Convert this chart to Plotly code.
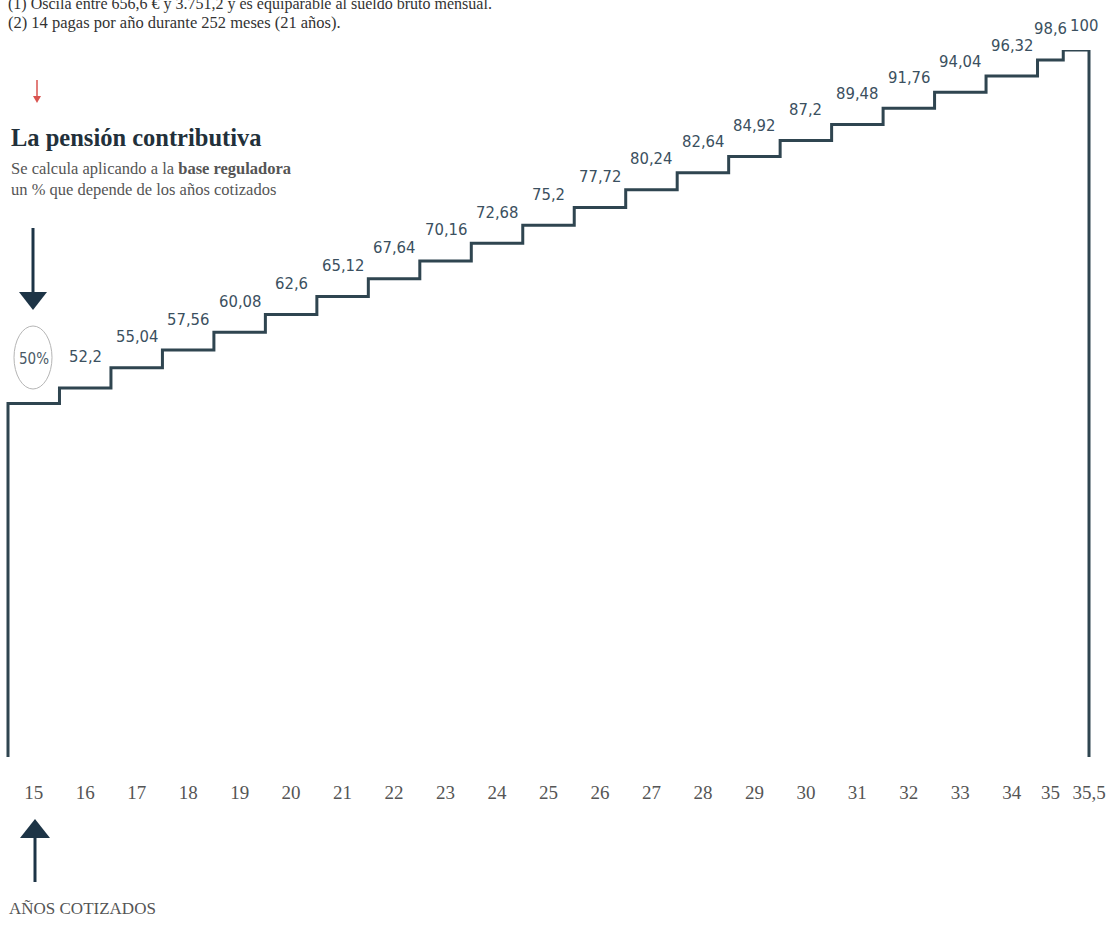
import plotly.graph_objects as go

# Años cotizados y porcentaje de la base reguladora
years = [15, 16, 17, 18, 19, 20, 21, 22, 23, 24, 25,
         26, 27, 28, 29, 30, 31, 32, 33, 34, 35, 35.5]
pct = [50, 52.2, 55.04, 57.56, 60.08, 62.6, 65.12, 67.64, 70.16, 72.68, 75.2,
       77.72, 80.24, 82.64, 84.92, 87.2, 89.48, 91.76, 94.04, 96.32, 98.6, 100]
tick_labels = ["15", "16", "17", "18", "19", "20", "21", "22", "23", "24", "25",
               "26", "27", "28", "29", "30", "31", "32", "33", "34", "35", "35,5"]

W, H = 1106, 926
M_TOP, M_BOT = 50, 169          # plot area spans pixel rows 50..757
PLOT_H = H - M_TOP - M_BOT

LINE = "#2f4550"
NAVY = "#1d3446"
LABEL = "#3b5060"
GREY = "#555555"
NARROW = "Liberation Sans Narrow, DejaVu Sans Condensed, Arial Narrow, sans-serif"
SERIF = "Liberation Serif, DejaVu Serif, serif"


def fmt(v):
    s = f"{v:.2f}".rstrip("0").rstrip(".")
    return s.replace(".", ",")


# each step is one year wide; the last (half year) is as wide as its gap
gaps = [b - a for a, b in zip(years[:-1], years[1:])]
widths = gaps + [gaps[-1]]
lefts = [years[0] - 0.5]
for w in widths[:-1]:
    lefts.append(lefts[-1] + w)
rights = [l + w for l, w in zip(lefts, widths)]
centres = [(l + r) / 2 for l, r in zip(lefts, rights)]

step_x = [lefts[0]] + lefts + [rights[-1], rights[-1]]
step_y = [0] + pct + [pct[-1], 0]

tick_pos = [c if float(y).is_integer() else r
            for y, c, r in zip(years, centres, rights)]

fig = go.Figure()
fig.add_trace(go.Scatter(
    x=step_x, y=step_y, mode="lines", line_shape="hv",
    line=dict(color=LINE, width=3), hoverinfo="skip", showlegend=False,
))

# value labels above each step
last = len(pct) - 1
for i, (c, v) in enumerate(zip(centres, pct)):
    first = i == 0
    shift = 45 if first else (25 if i == last else 31)
    fig.add_annotation(
        x=c, y=v, xref="x", yref="y",
        text=fmt(v) + ("%" if first else ""),
        showarrow=False, yshift=shift, xshift=8 if i == last else 0,
        font=dict(family=NARROW, size=15 if first else 16.5,
                  color="#4a5a66" if first else LABEL),
    )

x0_px, x1_px = 8, 1089           # pixel columns of the outer vertical lines
ppu = (x1_px - x0_px) / (rights[-1] - lefts[0])
xr = [lefts[0] - x0_px / ppu, rights[-1] + (W - x1_px) / ppu]


def px(xp):
    return xp / W


def py(yp):
    return (H - M_BOT - yp) / PLOT_H


shapes = []


def arrow(x, y_from, y_to, head_w, head_h, color, width):
    d = 1 if y_to > y_from else -1
    base = y_to - d * head_h
    shapes.append(dict(type="line", xref="paper", yref="paper",
                       x0=px(x), x1=px(x), y0=py(y_from), y1=py(base + d * 2),
                       line=dict(color=color, width=width)))
    shapes.append(dict(type="path", xref="paper", yref="paper",
                       path=(f"M {px(x - head_w / 2)} {py(base)} "
                             f"L {px(x + head_w / 2)} {py(base)} "
                             f"L {px(x)} {py(y_to)} Z"),
                       fillcolor=color, line=dict(color=color, width=0)))


arrow(33, 228, 310, 28, 18, NAVY, 3)
arrow(35, 882, 819, 30, 19, NAVY, 3)
arrow(37, 80, 103, 8, 7, "#d9534f", 1.5)

# ring around the 50%
shapes.append(dict(type="circle", xref="paper", yref="paper",
                   x0=px(14), x1=px(52), y0=py(389), y1=py(326),
                   line=dict(color="#b5b5b5", width=1)))


def note(text, x, y, size, color, family=SERIF):
    fig.add_annotation(x=px(x), y=py(y), xref="paper", yref="paper",
                       text=text, showarrow=False, xanchor="left",
                       yanchor="middle", align="left",
                       font=dict(family=family, size=size, color=color))


note("(1) Oscila entre 656,6 € y 3.751,2 y es equiparable al sueldo bruto mensual.",
     6, 4, 16, "#333333")
note("(2) 14 pagas por año durante 252 meses (21 años).", 6, 23, 16.5, "#333333")
note("<b>La pensión contributiva</b>", 9, 137, 24.5, "#22303a")
note("Se calcula aplicando a la <b>base reguladora</b>", 9, 168, 16.5, GREY)
note("un % que depende de los años cotizados", 9, 190, 16.5, GREY)
note("AÑOS COTIZADOS", 7, 908, 17, GREY)

fig.update_layout(
    width=W, height=H,
    margin=dict(l=0, r=0, t=M_TOP, b=M_BOT),
    paper_bgcolor="white", plot_bgcolor="white",
    shapes=shapes, showlegend=False,
    xaxis=dict(range=xr, showgrid=False, zeroline=False, showline=False,
               ticks="", tickvals=tick_pos, ticktext=tick_labels,
               ticklabelstandoff=22,
               tickfont=dict(family=SERIF, size=19, color=GREY)),
    yaxis=dict(range=[0, 100], visible=False),
)

fig.write_html("out.html")
